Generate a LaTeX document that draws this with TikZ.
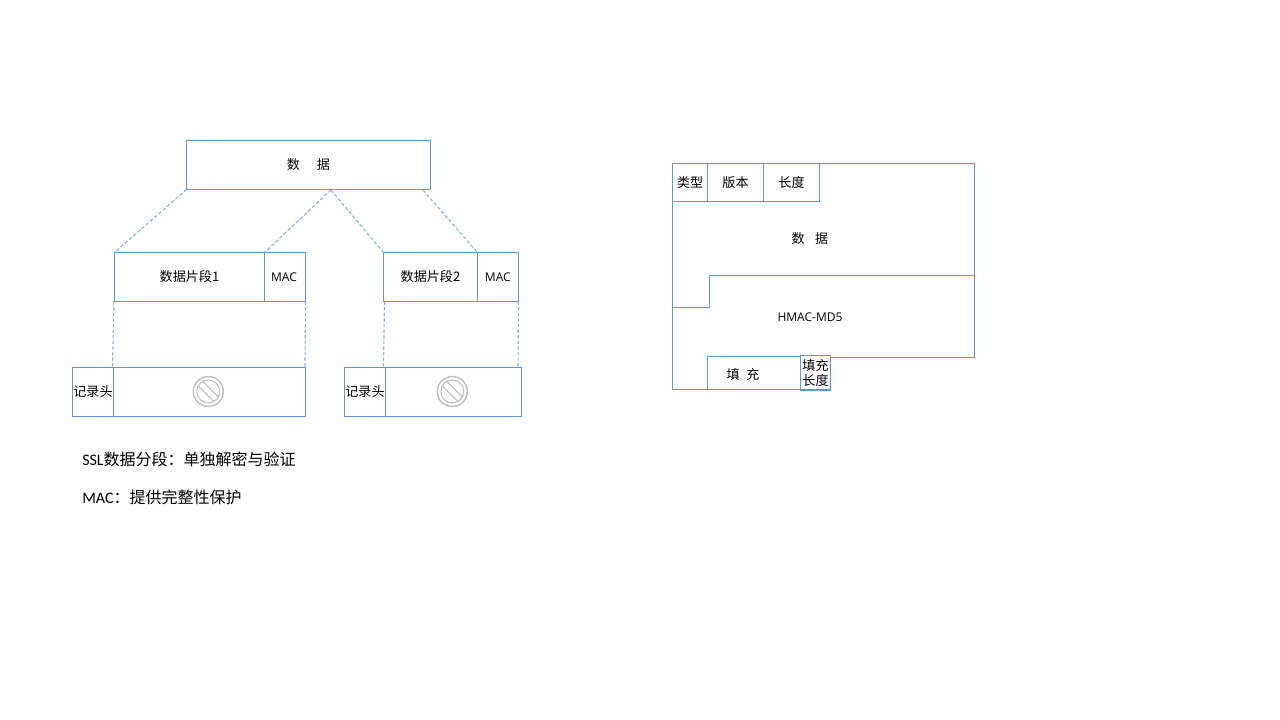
\documentclass[tikz,border=0pt]{standalone}
\usepackage{fontspec}
\setmainfont{Noto Sans CJK SC}
\newfontfamily\latinf{Open Sans}
\newfontfamily\notef{Carlito}
\definecolor{boxblue}{HTML}{5B9BD5}
\definecolor{icongray}{HTML}{BEBEBE}
\tikzset{
  x=0.75pt,y=-0.75pt,
  box/.style={draw=boxblue,line width=0.85pt,inner sep=0pt,outer sep=0pt,anchor=north west,align=center,font=\fontsize{9.8}{11.5}\selectfont},
  wall/.style={draw=boxblue,line width=0.85pt},
  link/.style={draw=boxblue,line width=0.85pt,dash pattern=on 2.6pt off 1.6pt,opacity=.75},
  note/.style={inner sep=0pt,anchor=west,font=\fontsize{12}{14}\selectfont},
  plain/.style={inner sep=0pt,font=\fontsize{9.8}{11.5}\selectfont},
  latintxt/.style={font=\latinf\fontsize{9}{10}\selectfont},
  bansign/.pic={
    \draw[icongray,line width=1.1pt] (0,0) circle[radius=15];
    \draw[icongray,line width=.8pt] (0,0) circle[radius=11.5];
    \draw[icongray,line width=.8pt] (-10,-5.5) -- (5.5,10);
    \draw[icongray,line width=.8pt] (-5.5,-10) -- (10,5.5);
  }
}
\newcommand{\boxnode}[7][]{\node[box,minimum width=#4*0.75pt,minimum height=#5*0.75pt,#1] (#2) at (#6,#7) {#3};}
\begin{document}
\begin{tikzpicture}
\useasboundingbox (0,0) rectangle (1280,720);

% left: data and fragments
\boxnode{data}{数\hspace{1.3em}据}{244}{49}{186.5}{140.5}
\boxnode{frag1}{数据片段1}{150}{49}{114.5}{252.5}
\boxnode{mac1}{}{41}{49}{264.5}{252.5}
\boxnode{frag2}{数据片段2}{94}{49}{383.5}{252.5}
\boxnode{mac2}{}{41}{49}{477.5}{252.5}
\node[latintxt,inner sep=0pt] (mac1txt) at (284,277) {MAC};
\node[latintxt,inner sep=0pt] (mac2txt) at (497.8,277) {MAC};
\boxnode{head1}{记录头}{41}{49}{72.5}{367.5}
\boxnode{body1}{}{192}{49}{113.5}{367.5}
\boxnode{head2}{记录头}{41}{49}{344.5}{367.5}
\boxnode{body2}{}{136}{49}{385.5}{367.5}

\coordinate (dataMid) at (331,190);
\coordinate (dataRight) at (423,190);
\draw[link] (data.south west) -- (frag1.north west);
\draw[link] (dataMid) -- (mac1.north west);
\draw[link] (dataMid) -- (frag2.north west);
\draw[link] (dataRight) -- (mac2.north west);
\draw[link] ([xshift=-0.4pt]frag1.south west) -- ([xshift=-0.75pt]body1.north west);
\draw[link] (mac1.south east) -- ([xshift=-0.4pt]body1.north east);
\draw[link] ([xshift=0.75pt]frag2.south west) -- ([xshift=-1.5pt]body2.north west);
\draw[link] (mac2.south east) -- ([xshift=-2.6pt]body2.north east);

\pic at (208.3,391.5) {bansign};
\pic at (452.3,391.5) {bansign};

\node[note] (note1) at (82,459.5) {{\notef SSL}数据分段：单独解密与验证};
\node[note] (note2) at (82,497.5) {{\notef MAC}：提供完整性保护};

% right: record layout
\coordinate (outerNW) at (672.5,163.5);
\coordinate (outerNE) at (974.5,163.5);
\coordinate (outerE) at (974.5,275.5);
\coordinate (stepTop) at (709.5,275.5);
\coordinate (stepBot) at (709.5,307.5);
\coordinate (stepLeft) at (672.5,307.5);
\coordinate (outerSE) at (974.5,357.5);
\coordinate (outerSW) at (672.5,389.5);

\boxnode{type}{类型}{35}{38}{672.5}{163.5}
\boxnode{ver}{版本}{56}{38}{707.5}{163.5}
\boxnode{len}{长度}{56}{38}{763.5}{163.5}
\boxnode{pad}{}{93}{33}{707.5}{356.5}
\node[plain] (padtxt) at (743,375) {填\hspace{.5em}充};
\boxnode[font=\fontsize{9.8}{11.2}\selectfont]{padlen}{填充\\长度}{30}{34.5}{800.5}{355.5}

\draw[wall] (len.north east) -- (outerNE) -- (outerSE) -- (padlen.east |- outerSE);
\draw[wall] (outerNW) -- (outerSW) -- (pad.south west);
\draw[wall] (outerE) -- (stepTop) -- (stepBot) -- (stepLeft);
\node[plain] (rdata) at (810,238.7) {数\hspace{.8em}据};
\node[latintxt,inner sep=0pt] (hmac) at (810,317.2) {HMAC-MD5};
\end{tikzpicture}
\end{document}
